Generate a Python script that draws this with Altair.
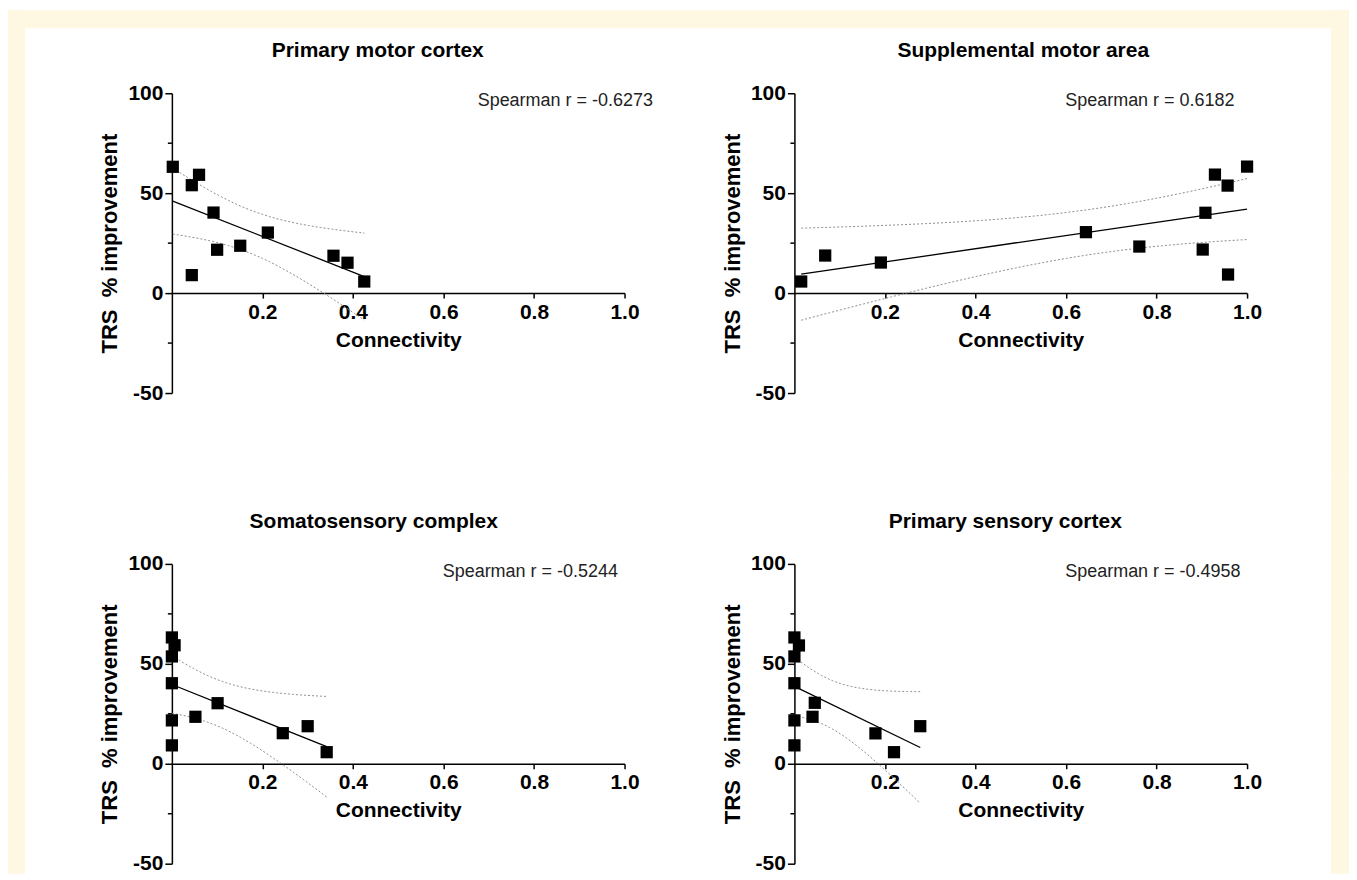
import numpy as np
import pandas as pd
import altair as alt

# ---------------- data ----------------
TITLES = ["Primary motor cortex", "Supplemental motor area",
          "Somatosensory complex", "Primary sensory cortex"]
SPEARMAN = ["Spearman r = -0.6273", "Spearman r = 0.6182",
            "Spearman r = -0.5244", "Spearman r = -0.4958"]

PMC_X = [0.002, 0.044, 0.060, 0.092, 0.100, 0.044, 0.151, 0.212, 0.357, 0.388, 0.425]
PMC_Y = [63.2, 54.0, 59.2, 40.3, 21.7, 9.0, 23.7, 30.3, 18.7, 15.2, 5.8]

SMA_X = [1.000, 0.929, 0.957, 0.908, 0.644, 0.762, 0.902, 0.958, 0.191, 0.068, 0.015]
SMA_Y = [63.3, 59.3, 53.8, 40.2, 30.5, 23.3, 21.8, 9.3, 15.3, 18.8, 5.8]

SSC_X = [0.000, 0.006, 0.000, 0.000, 0.000, 0.000, 0.052, 0.101, 0.245, 0.300, 0.342]
SSC_Y = [63.2, 59.3, 53.7, 40.3, 21.7, 9.2, 23.5, 30.3, 15.3, 18.8, 5.8]

PSC_X = [0.000, 0.010, 0.000, 0.000, 0.000, 0.000, 0.040, 0.045, 0.179, 0.220, 0.278]
PSC_Y = [63.2, 59.2, 53.7, 40.3, 21.7, 9.2, 23.5, 30.5, 15.2, 5.8, 18.8]

X_TICKS = [0.2, 0.4, 0.6, 0.8, 1.0]
Y_TICKS = [-50, 0, 50, 100]
Y_MINOR = [-25, 25, 75]
X_TITLE = "Connectivity"
Y_TITLE = "TRS\u00a0\u00a0% improvement"

# ---------------- styling / layout ----------------
W, H = 453, 300
COLGAP, ROWGAP = 170, 171
T_CRIT = 2.262          # t(0.975, df = n - 2 = 9) for the 95% CI of the fit
CREAM = "#FEF7E1"
FONT = "Liberation Sans"


def ci_band(xs, ys):
    """95% confidence band of the least-squares line, computed from the data."""
    x = np.asarray(xs, float)
    y = np.asarray(ys, float)
    n = len(x)
    mx = x.mean()
    sxx = ((x - mx) ** 2).sum()
    b = ((x - mx) * (y - y.mean())).sum() / sxx
    a = y.mean() - b * mx
    s = np.sqrt(((y - (a + b * x)) ** 2).sum() / (n - 2))
    g = np.linspace(x.min(), x.max(), 80)
    fit = a + b * g
    h = T_CRIT * s * np.sqrt(1.0 / n + (g - mx) ** 2 / sxx)
    return pd.DataFrame({"x": g, "lo": fit - h, "hi": fit + h})


xsc = alt.Scale(domain=[0, 1], nice=False, zero=False)
ysc = alt.Scale(domain=[-50, 100], nice=False, zero=False)
xax = alt.Axis(values=X_TICKS, format=".1f", offset=-H / 3.0, title=X_TITLE,
               tickSize=5, labelPadding=3, labelFlush=False,
               titleFontSize=21, titlePadding=7)
yax = alt.Axis(values=Y_TICKS, labelExpr="'' + datum.value", title=Y_TITLE,
               tickSize=7, labelPadding=2, labelFlush=False,
               titleFontSize=22, titlePadding=6)


def X(f):
    return alt.X(f, type="quantitative", scale=xsc, axis=xax)


def Y(f):
    return alt.Y(f, type="quantitative", scale=ysc, axis=yax)


one = pd.DataFrame({"k": [0]})


def panel(i, xs, ys, title_cx, spear_x, strips):
    pts = pd.DataFrame({"x": xs, "y": ys})
    band = ci_band(xs, ys)
    layers = []
    for (x1, x2, y1, y2) in strips:
        layers.append(
            alt.Chart(one).mark_rect(color=CREAM).encode(
                x=alt.value(x1), x2=alt.value(x2), y=alt.value(y1), y2=alt.value(y2)))
    dotted = dict(color="#8c8c8c", strokeWidth=1, strokeDash=[2, 2])
    layers.append(alt.Chart(band).mark_line(**dotted).encode(x=X("x"), y=Y("hi")))
    layers.append(alt.Chart(band).mark_line(**dotted).encode(x=X("x"), y=Y("lo")))
    layers.append(alt.Chart(pts).transform_regression("x", "y")
                  .mark_line(color="black", strokeWidth=1.3)
                  .encode(x=X("x"), y=Y("y")))
    layers.append(alt.Chart(pd.DataFrame({"v": Y_MINOR}))
                  .mark_rule(color="black", strokeWidth=1.5)
                  .encode(y=Y("v"), x=alt.value(-4), x2=alt.value(0)))
    layers.append(alt.Chart(pts).mark_square(size=150, color="black", opacity=1)
                  .encode(x=X("x"), y=Y("y")))
    layers.append(alt.Chart(one).mark_text(
        text=TITLES[i], font=FONT, fontSize=21, fontWeight="bold",
        align="center", baseline="alphabetic", color="black")
        .encode(x=alt.value(title_cx), y=alt.value(-36)))
    layers.append(alt.Chart(one).mark_text(
        text=SPEARMAN[i], font=FONT, fontSize=18, align="left",
        baseline="alphabetic", color="#222222")
        .encode(x=alt.value(spear_x), y=alt.value(13)))
    return alt.layer(*layers).properties(width=W, height=H)


mid_c = COLGAP / 2.0
mid_r = ROWGAP / 2.0
p1 = panel(0, PMC_X, PMC_Y, 206, 306,
           [(-164, -147, -83, H + mid_r), (-164, W + mid_c, -83, -65)])
p2 = panel(1, SMA_X, SMA_Y, 229, 271,
           [(-mid_c, 555, -83, -65), (537, 555, -83, H + mid_r)])
p3 = panel(2, SSC_X, SSC_Y, 202, 271,
           [(-164, -147, -mid_r, H + 10)])
p4 = panel(3, PSC_X, PSC_Y, 211, 271,
           [(537, 555, -mid_r, H + 10)])

chart = alt.concat(p1, p2, p3, p4, columns=2,
                   spacing={"row": ROWGAP, "column": COLGAP},
                   bounds="flush").properties(
    padding={"left": 0, "top": 2, "right": 0, "bottom": 0},
    background="white",
).configure_view(stroke=None).configure_axis(
    grid=False, domainColor="black", domainWidth=1.5,
    tickColor="black", tickWidth=1.5,
    labelFont=FONT, labelFontWeight="bold", labelFontSize=21, labelColor="black",
    titleFont=FONT, titleFontWeight="bold", titleColor="black",
)

chart.save("out.html", embed_options={"renderer": "svg", "actions": False})
